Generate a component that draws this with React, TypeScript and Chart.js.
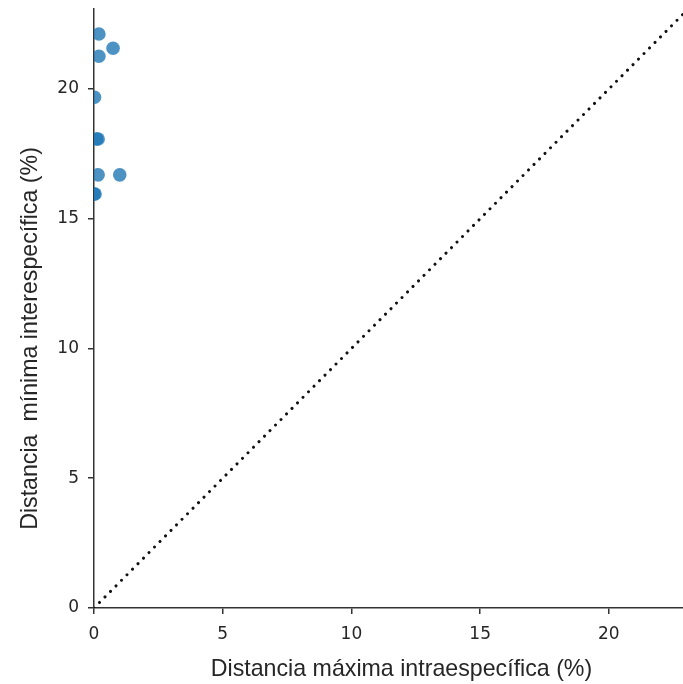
import React, { useEffect, useRef } from 'react';
import { Chart, registerables } from 'chart.js';

Chart.register(...registerables);

// Data
const intraMax = [0.19, 0.74, 0.19, 0.02, 0.1, 0.16, 0.16, 1.0, 0.0, 0.04];
const interMin = [22.12, 21.57, 21.26, 19.68, 18.07, 18.07, 16.69, 16.69, 15.95, 15.95];
const xTicks = [0, 5, 10, 15, 20];
const yTicks = [0, 5, 10, 15, 20];
const xMax = 22.88;
const yMax = 23.1;
const diagonal = [0, 23.2];

const xTitle = 'Distancia máxima intraespecífica (%)';
const yTitle = 'Distancia  mínima interespecífica (%)';

const titlePlugin = {
  id: 'customTitles',
  afterDraw(chart: any) {
    const ctx = chart.ctx;
    ctx.save();
    ctx.fillStyle = '#262626';
    ctx.font = '23.2px "Liberation Sans", Arial, sans-serif';
    ctx.textAlign = 'center';
    ctx.textBaseline = 'alphabetic';
    ctx.fillText(xTitle, 401.5, 676);
    ctx.translate(37, 338.5);
    ctx.rotate(-Math.PI / 2);
    ctx.fillText(yTitle, 0, 0);
    ctx.restore();
  },
};

const zeroPad = (s: any) => {
  s.paddingTop = 0;
  s.paddingBottom = 0;
  s.paddingLeft = 0;
  s.paddingRight = 0;
};

export default function App() {
  const ref = useRef<HTMLCanvasElement | null>(null);
  useEffect(() => {
    document.body.style.margin = '0';
    const canvas = ref.current;
    if (!canvas) return;
    const points = intraMax.map((x, i) => ({ x, y: interMin[i] }));
    const line = diagonal.map((v) => ({ x: v, y: v }));
    const tickFont = { family: '"DejaVu Sans", sans-serif', size: 17 };
    const chart = new Chart(canvas, {
      type: 'scatter',
      data: {
        datasets: [
          {
            data: line,
            showLine: true,
            pointRadius: 0,
            borderColor: '#111',
            borderWidth: 3,
            borderDash: [0.01, 7.8],
            borderCapStyle: 'round',
            backgroundColor: 'transparent',
          } as any,
          {
            data: points,
            pointRadius: 6.8,
            pointHoverRadius: 6.8,
            pointBorderWidth: 0,
            backgroundColor: 'rgba(31,119,180,0.8)',
            borderColor: 'rgba(31,119,180,0.8)',
          } as any,
        ],
      },
      options: {
        responsive: false,
        animation: false,
        devicePixelRatio: 1,
        layout: { autoPadding: false, padding: { top: 8.5, right: 0, left: 0, bottom: 0 } },
        plugins: { legend: { display: false }, tooltip: { enabled: false }, title: { display: false } },
        scales: {
          x: {
            type: 'linear',
            min: 0,
            max: xMax,
            afterFit: (s: any) => { s.height = 76; zeroPad(s); },
            afterBuildTicks: (s: any) => { s.ticks = xTicks.map((v) => ({ value: v })); },
            ticks: { font: tickFont, color: '#262626', padding: 10, maxRotation: 0 },
            grid: { drawOnChartArea: false, drawTicks: true, tickLength: 6, color: '#333', lineWidth: 1.5 },
            border: { display: true, color: '#333', width: 1.5 },
          },
          y: {
            type: 'linear',
            min: 0,
            max: yMax,
            afterFit: (s: any) => { s.width = 94; zeroPad(s); },
            afterBuildTicks: (s: any) => { s.ticks = yTicks.map((v) => ({ value: v })); },
            ticks: { font: tickFont, color: '#262626', padding: 9 },
            grid: { drawOnChartArea: false, drawTicks: true, tickLength: 6, color: '#333', lineWidth: 1.5 },
            border: { display: true, color: '#333', width: 1.5 },
          },
        },
      } as any,
      plugins: [titlePlugin],
    });
    return () => chart.destroy();
  }, []);
  return (
    <div style={{ position: 'fixed', left: 0, top: 0, width: 683, height: 684, background: '#fff' }}>
      <canvas ref={ref} width={683} height={684} style={{ width: 683, height: 684, display: 'block' }} />
    </div>
  );
}
